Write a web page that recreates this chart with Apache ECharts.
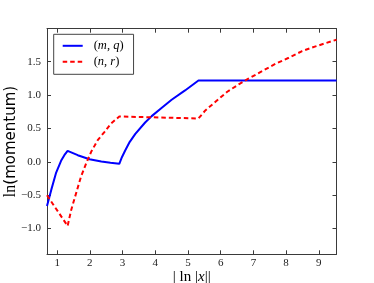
<!DOCTYPE html>
<html>
<head>
<meta charset="utf-8">
<script src="https://cdn.jsdelivr.net/npm/echarts@6/dist/echarts.min.js"></script>
<style>
html,body{margin:0;padding:0;background:#fff;}
#chart{width:374px;height:283px;}
</style>
</head>
<body>
<div id="chart"></div>
<script>
// ---- data ----
const seriesNames = ['(m,q)', '(n,r)'];
const mqX = [0.69, 0.82, 0.97, 1.12, 1.22, 1.32, 1.63, 1.99, 2.35, 2.63, 2.90, 2.98, 3.08, 3.22, 3.39, 3.69, 3.89, 4.20, 4.50, 4.91, 5.32, 9.54];
const mqY = [-0.66, -0.42, -0.16, 0.015, 0.10, 0.165, 0.10, 0.04, 0.005, -0.015, -0.03, 0.07, 0.17, 0.30, 0.42, 0.59, 0.685, 0.81, 0.93, 1.07, 1.22, 1.22];
const nrX = [0.69, 1.32, 1.43, 1.58, 1.73, 1.89, 2.04, 2.24, 2.45, 2.65, 2.90, 5.32, 5.53, 5.84, 6.20, 6.55, 6.86, 7.27, 7.68, 8.08, 8.49, 8.90, 9.41, 9.54];
const nrY = [-0.50, -0.96, -0.72, -0.47, -0.22, -0.02, 0.15, 0.325, 0.45, 0.575, 0.68, 0.65, 0.77, 0.90, 1.05, 1.16, 1.25, 1.36, 1.47, 1.56, 1.66, 1.73, 1.81, 1.83];
const xTicks = [1, 2, 3, 4, 5, 6, 7, 8, 9];
const yTicks = [-1.0, -0.5, 0.0, 0.5, 1.0, 1.5];
const xRange = [0.69, 9.54];
const yRange = [-1.385, 1.995];

const pairs = (xs, ys) => xs.map((x, i) => [x, ys[i]]);
const fmtY = v => (v < 0 ? '\u2212' : '') + Math.abs(v).toFixed(1);

const SERIF = '"Liberation Serif", "DejaVu Serif", serif';
const AX = '#3a3a3a';
const tickStyle = {show: true, inside: true, length: 4, lineStyle: {color: AX, width: 1}};

const chart = echarts.init(document.getElementById('chart'));
chart.setOption({
  animation: false,
  backgroundColor: '#fff',
  grid: {left: 47, top: 28.7, right: 37.5, bottom: 28.7, containLabel: false, outerBoundsMode: 'none'},
  legend: {
    data: seriesNames,
    orient: 'vertical',
    left: 53.7, top: 34.3,
    padding: [5, 10, 6, 8],
    itemWidth: 20, itemHeight: 4, itemGap: 3,
    borderColor: '#444', borderWidth: 1, borderRadius: 0,
    backgroundColor: '#fff',
    itemStyle: {color: 'rgba(0,0,0,0)', borderWidth: 0},
    formatter: function (n) {
      const a = n.replace(/[()]/g, '').split(',');
      return '{r|(}{i|' + a[0] + '}{r|, }{i|' + a[1] + '}{r|)}';
    },
    textStyle: {
      padding: [0, 0, 0, 6],
      rich: {
        r: {fontFamily: SERIF, fontSize: 12.5, color: '#000', lineHeight: 14},
        i: {fontFamily: SERIF, fontSize: 12.5, fontStyle: 'italic', color: '#000', lineHeight: 14}
      }
    }
  },
  xAxis: [{
    type: 'value', min: xRange[0], max: xRange[1],
    position: 'bottom',
    splitLine: {show: false},
    axisLine: {show: true, onZero: false, lineStyle: {color: AX, width: 1}},
    axisTick: Object.assign({customValues: xTicks}, tickStyle),
    axisLabel: {customValues: xTicks, margin: 3, fontFamily: SERIF, fontSize: 11, color: '#222', formatter: v => String(v)},
    name: '{r|| ln |}{i|x}{r|||}',
    nameLocation: 'middle', nameGap: 15, nameMoveOverlap: false,
    nameTextStyle: {
      rich: {
        r: {fontFamily: SERIF, fontSize: 15, color: '#000'},
        i: {fontFamily: SERIF, fontSize: 15, fontStyle: 'italic', color: '#000'}
      }
    }
  }, {
    type: 'value', min: xRange[0], max: xRange[1],
    position: 'top',
    splitLine: {show: false},
    axisLine: {show: true, onZero: false, lineStyle: {color: AX, width: 1}},
    axisTick: Object.assign({customValues: xTicks}, tickStyle),
    axisLabel: {show: false}
  }],
  yAxis: [{
    type: 'value', min: yRange[0], max: yRange[1],
    position: 'left',
    splitLine: {show: false},
    axisLine: {show: true, onZero: false, lineStyle: {color: AX, width: 1}},
    axisTick: Object.assign({customValues: yTicks}, tickStyle),
    axisLabel: {customValues: yTicks, margin: 6, fontFamily: SERIF, fontSize: 11, color: '#222', formatter: fmtY},
    name: '{r|ln}{s|(momentum)}',
    nameLocation: 'middle', nameRotate: 90, nameGap: 28, nameMoveOverlap: false,
    nameTextStyle: {
      rich: {
        r: {fontFamily: SERIF, fontSize: 16, color: '#000'},
        s: {fontFamily: '"DejaVu Sans", sans-serif', fontSize: 15, color: '#000'}
      }
    }
  }, {
    type: 'value', min: yRange[0], max: yRange[1],
    position: 'right',
    splitLine: {show: false},
    axisLine: {show: true, onZero: false, lineStyle: {color: AX, width: 1}},
    axisTick: Object.assign({customValues: yTicks}, tickStyle),
    axisLabel: {show: false}
  }],
  series: [{
    name: seriesNames[0], type: 'line',
    xAxisIndex: 0, yAxisIndex: 0,
    data: pairs(mqX, mqY),
    symbol: 'none', showSymbol: false, smooth: false,
    lineStyle: {color: '#0000ff', width: 2},
    itemStyle: {color: '#0000ff'}
  }, {
    name: seriesNames[1], type: 'line',
    xAxisIndex: 0, yAxisIndex: 0,
    data: pairs(nrX, nrY),
    symbol: 'none', showSymbol: false, smooth: false,
    lineStyle: {color: '#ff0000', width: 2, type: [4.5, 3]},
    itemStyle: {color: '#ff0000'}
  }]
});
</script>
</body>
</html>
